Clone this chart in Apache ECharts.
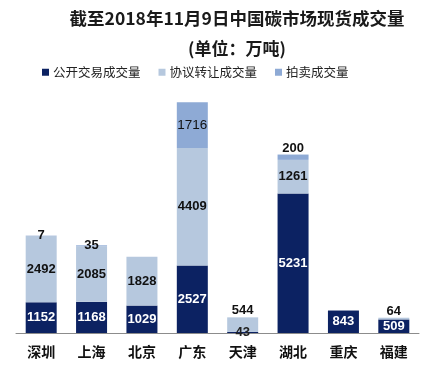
<!DOCTYPE html>
<html>
<head>
<meta charset="utf-8">
<script src="https://cdn.jsdelivr.net/npm/echarts@6/dist/echarts.min.js"></script>
<style>html,body{margin:0;padding:0;background:#fff}#c{width:436px;height:367px}</style>
</head>
<body>
<div id="c"></div>
<script>
const categories = ['深圳','上海','北京','广东','天津','湖北','重庆','福建'];
const publicVol   = [1152, 1168, 1029, 2527, 43, 5231, 843, 509];
const transferVol = [2492, 2085, 1828, 4409, 544, 1261, 0, 64];
const auctionVol  = [7, 35, 0, 1716, 0, 200, 0, 0];
const seriesNames = ['公开交易成交量','协议转让成交量','拍卖成交量'];

const topLabelCats = { transfer: ['天津','福建'], auction: ['湖北'] };
const darkLabelCats = ['天津'];
const normalWeightCats = { auction: ['广东'] };

function build(values, key) {
  return values.map((v, i) => {
    if (!v) return { value: '-' };
    const item = { value: v };
    const lbl = {};
    if (topLabelCats[key] && topLabelCats[key].includes(categories[i])) {
      lbl.position = 'top'; lbl.distance = 0;
    }
    if (key === 'public' && darkLabelCats.includes(categories[i])) {
      lbl.color = '#222';
    }
    if (normalWeightCats[key] && normalWeightCats[key].includes(categories[i])) {
      lbl.fontWeight = 'normal'; lbl.fontSize = 13.5;
    }
    if (Object.keys(lbl).length) item.label = lbl;
    return item;
  });
}

const chart = echarts.init(document.getElementById('c'), null, { renderer: 'canvas' });
const labelBase = { show: true, position: 'inside', fontFamily: 'Liberation Sans, Arial, sans-serif', fontSize: 13, fontWeight: 'bold' };
chart.setOption({
  backgroundColor: '#fff',
  animation: false,
  title: [
    { text: '截至2018年11月9日中国碳市场现货成交量', left: 232, top: 5, textAlign: 'center',
      textStyle: { fontFamily: 'Noto Sans CJK SC', fontSize: 17.5, fontWeight: 'bold', color: '#1a1a1a' } },
    { text: '(单位：万吨)', left: 232, top: 35, textAlign: 'center',
      textStyle: { fontFamily: 'Noto Sans CJK SC', fontSize: 17, fontWeight: 'bold', color: '#1a1a1a' } }
  ],
  legend: {
    left: 37, top: 61, itemWidth: 7, itemHeight: 7, itemGap: 18, icon: 'rect',
    textStyle: { fontFamily: 'Noto Sans CJK SC', fontSize: 12.5, color: '#222', padding: [0,0,0,-1] },
    data: seriesNames
  },
  grid: { left: 16, right: 17, top: 93, bottom: 34, containLabel: false },
  xAxis: {
    type: 'category', data: categories,
    axisLine: { show: true, lineStyle: { color: '#8c8c8c', width: 1 } },
    axisTick: { show: false },
    axisLabel: { margin: 12, fontFamily: 'Noto Sans CJK SC', fontSize: 14, fontWeight: 'bold', color: '#111' }
  },
  yAxis: { type: 'value', min: 0, max: 9000, show: false, splitLine: { show: false } },
  series: [
    { name: seriesNames[0], type: 'bar', stack: 's', barWidth: 31,
      itemStyle: { color: '#0c2262' },
      label: Object.assign({}, labelBase, { color: '#fff' }),
      data: build(publicVol, 'public') },
    { name: seriesNames[1], type: 'bar', stack: 's', barWidth: 31,
      itemStyle: { color: '#b6c8de' },
      label: Object.assign({}, labelBase, { color: '#111' }),
      data: build(transferVol, 'transfer') },
    { name: seriesNames[2], type: 'bar', stack: 's', barWidth: 31,
      itemStyle: { color: '#8eaad5' },
      label: Object.assign({}, labelBase, { color: '#111' }),
      data: build(auctionVol, 'auction') }
  ]
});
</script>
</body>
</html>
